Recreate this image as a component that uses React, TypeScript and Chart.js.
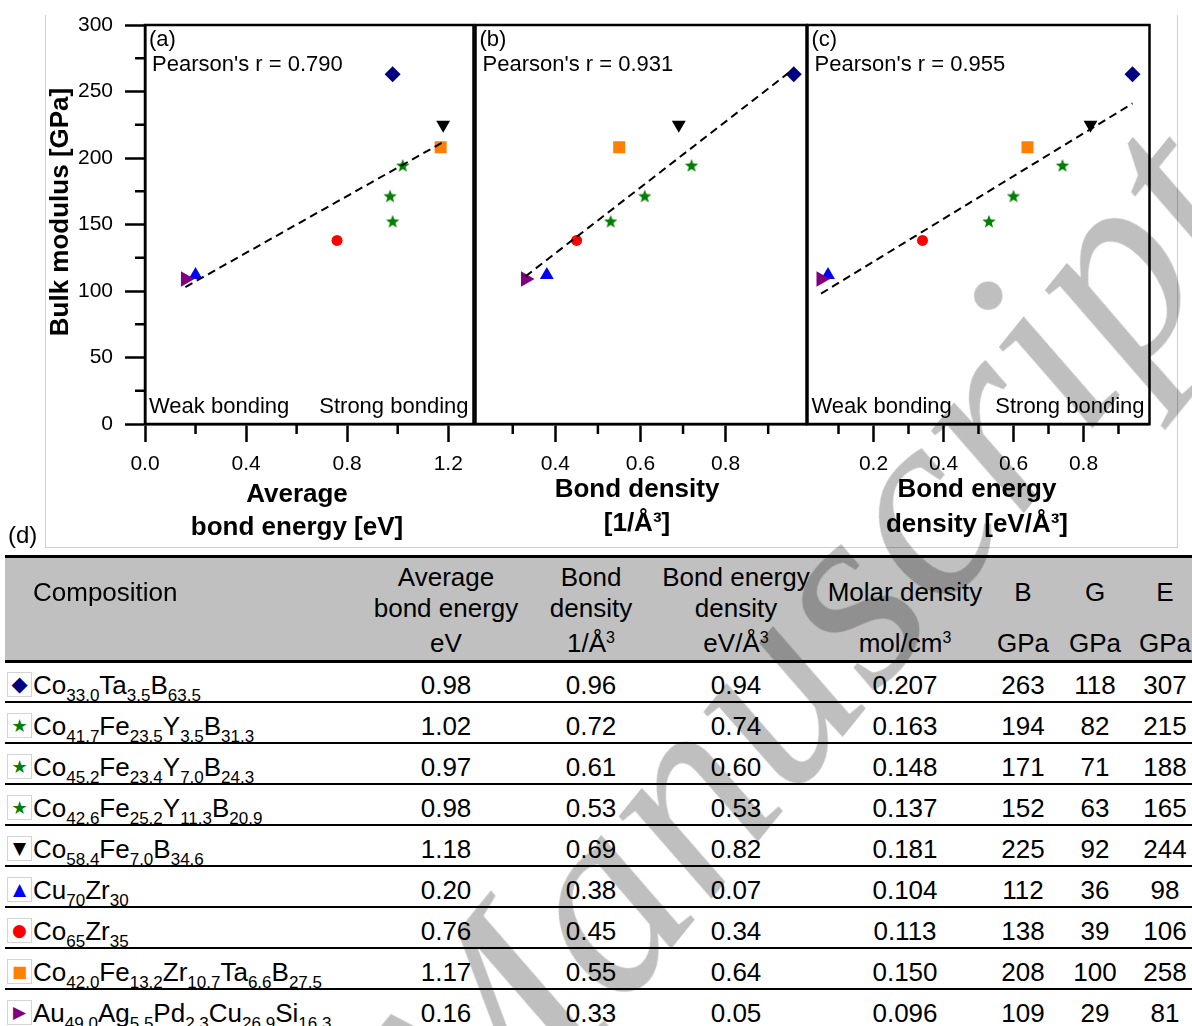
import React, { useEffect, useRef } from "react";
import { Chart, registerables } from "chart.js";

Chart.register(...registerables);

const FONT = "'Liberation Sans', Arial, Helvetica, sans-serif";

// ---------------- data ----------------
const COMPOSITIONS: [string, string][][] = [
  [["Co", "33.0"], ["Ta", "3.5"], ["B", "63.5"]],
  [["Co", "41.7"], ["Fe", "23.5"], ["Y", "3.5"], ["B", "31.3"]],
  [["Co", "45.2"], ["Fe", "23.4"], ["Y", "7.0"], ["B", "24.3"]],
  [["Co", "42.6"], ["Fe", "25.2"], ["Y", "11.3"], ["B", "20.9"]],
  [["Co", "58.4"], ["Fe", "7.0"], ["B", "34.6"]],
  [["Cu", "70"], ["Zr", "30"]],
  [["Co", "65"], ["Zr", "35"]],
  [["Co", "42.0"], ["Fe", "13.2"], ["Zr", "10.7"], ["Ta", "6.6"], ["B", "27.5"]],
  [["Au", "49.0"], ["Ag", "5.5"], ["Pd", "2.3"], ["Cu", "26.9"], ["Si", "16.3"]],
];
const AVG_BOND_ENERGY = [0.98, 1.02, 0.97, 0.98, 1.18, 0.2, 0.76, 1.17, 0.16];
const BOND_DENSITY = [0.96, 0.72, 0.61, 0.53, 0.69, 0.38, 0.45, 0.55, 0.33];
const BOND_ENERGY_DENSITY = [0.94, 0.74, 0.6, 0.53, 0.82, 0.07, 0.34, 0.64, 0.05];
const MOLAR_DENSITY = [0.207, 0.163, 0.148, 0.137, 0.181, 0.104, 0.113, 0.15, 0.096];
const BULK_MODULUS = [263, 194, 171, 152, 225, 112, 138, 208, 109];
const SHEAR_MODULUS = [118, 82, 71, 63, 92, 36, 39, 100, 29];
const YOUNG_MODULUS = [307, 215, 188, 165, 244, 98, 106, 258, 81];

const MARKER_KIND = ["diamond", "star", "star", "star", "down", "up", "circle", "square", "right"];
const MARKER_COLOR = ["#000080", "#008000", "#008000", "#008000", "#000000", "#0000ff", "#ff0000", "#ff8000", "#800080"];
const MARKER_GLYPH: Record<string, string> = {
  diamond: "◆", star: "★", down: "▼", up: "▲", circle: "●", square: "■", right: "▶",
};

const PEARSON = ["0.790", "0.931", "0.955"];
// fitted lines, endpoints
const FIT_A = [{ x: 0.16, y: 103 }, { x: 1.18, y: 212 }];
const FIT_B = [{ x: 0.33, y: 111 }, { x: 0.96, y: 267 }];
const FIT_C = [{ x: 0.05, y: 98 }, { x: 0.94, y: 241 }];

const Y_TICKS = [0, 50, 100, 150, 200, 250, 300];
const Y_MINOR = [25, 75, 125, 175, 225, 275];
const XA_TICKS = [0, 0.4, 0.8, 1.2];
const XA_MINOR = [0.2, 0.6, 1.0];
const XB_TICKS = [0.4, 0.6, 0.8];
const XB_MINOR = [0.3, 0.5, 0.7, 0.9];
const XC_TICKS = [0.2, 0.4, 0.6, 0.8];
const XC_MINOR = [0.1, 0.3, 0.5, 0.7, 0.9];

const HEADERS: { lines: string[]; unit: string; unitSup?: string }[] = [
  { lines: ["Average", "bond energy"], unit: "eV" },
  { lines: ["Bond", "density"], unit: "1/Å", unitSup: "3" },
  { lines: ["Bond energy", "density"], unit: "eV/Å", unitSup: "3" },
  { lines: ["Molar density"], unit: "mol/cm", unitSup: "3" },
  { lines: ["B"], unit: "GPa" },
  { lines: ["G"], unit: "GPa" },
  { lines: ["E"], unit: "GPa" },
];

// ---------------- layout ----------------
const W = 1192;
const H = 1026;
const CANVAS_H = 545;
const PLOT_TOP = 25;
const PLOT_BOTTOM = 424;
const COL_CENTERS = [446, 591, 736, 905, 1023, 1095, 1165];
const TABLE_TOP = 555;
const HEADER_BOTTOM = 661;
const ROW_H = 41;

type Panel = {
  key: string;
  xs: number[];
  fit: { x: number; y: number }[];
  min: number;
  max: number;
  ticks: number[];
  minor: number[];
  left: number;
  right: number;
  label: string;
  r: string;
  showY: boolean;
  bonding: boolean;
  title: string[];
  titleX: number;
  titleY: number[];
};

const PANELS: Panel[] = [
  {
    key: "a", xs: AVG_BOND_ENERGY, fit: FIT_A, min: 0, max: 1.3, ticks: XA_TICKS, minor: XA_MINOR,
    left: 145, right: 473.5, label: "(a)", r: PEARSON[0], showY: true, bonding: true,
    title: ["Average", "bond energy [eV]"], titleX: 297, titleY: [495, 528],
  },
  {
    key: "b", xs: BOND_DENSITY, fit: FIT_B, min: 0.2125, max: 0.99, ticks: XB_TICKS, minor: XB_MINOR,
    left: 475.5, right: 806.5, label: "(b)", r: PEARSON[1], showY: false, bonding: false,
    title: ["Bond density", "[1/Å³]"], titleX: 637, titleY: [490, 524],
  },
  {
    key: "c", xs: BOND_ENERGY_DENSITY, fit: FIT_C, min: 0.0114, max: 0.9886, ticks: XC_TICKS, minor: XC_MINOR,
    left: 807.5, right: 1149.5, label: "(c)", r: PEARSON[2], showY: false, bonding: true,
    title: ["Bond energy", "density [eV/Å³]"], titleX: 977, titleY: [490, 525],
  },
];

function makeStar(color: string, r: number) {
  const c = document.createElement("canvas");
  const s = Math.ceil(r * 2 + 2);
  c.width = s;
  c.height = s;
  const ctx = c.getContext("2d")!;
  ctx.fillStyle = color;
  ctx.beginPath();
  for (let k = 0; k < 10; k++) {
    const ang = -Math.PI / 2 + (k * Math.PI) / 5;
    const rr = k % 2 ? r * 0.42 : r;
    ctx.lineTo(s / 2 + rr * Math.cos(ang), s / 2 + rr * Math.sin(ang));
  }
  ctx.closePath();
  ctx.fill();
  return c;
}

function pointProps(kind: string, star: HTMLCanvasElement): any {
  switch (kind) {
    case "diamond": return { pointStyle: "rectRot", pointRadius: 8, pointRotation: 0 };
    case "star": return { pointStyle: star, pointRadius: 7 };
    case "down": return { pointStyle: "triangle", pointRadius: 8, pointRotation: 180 };
    case "up": return { pointStyle: "triangle", pointRadius: 8, pointRotation: 0 };
    case "circle": return { pointStyle: "circle", pointRadius: 5.5 };
    case "square": return { pointStyle: "rect", pointRadius: 8.5 };
    default: return { pointStyle: "triangle", pointRadius: 9, pointRotation: 90 };
  }
}

function decoPlugin(p: Panel) {
  return {
    id: "deco" + p.key,
    afterDraw(chart: any) {
      const { ctx, chartArea: ca, scales } = chart;
      ctx.save();
      ctx.strokeStyle = "#000";
      ctx.lineWidth = 2.5;
      ctx.strokeRect(ca.left, ca.top, ca.right - ca.left, ca.bottom - ca.top);
      ctx.beginPath();
      p.minor.forEach((v) => {
        const x = scales.x.getPixelForValue(v);
        ctx.moveTo(x, ca.bottom);
        ctx.lineTo(x, ca.bottom + 10);
      });
      if (p.showY) {
        Y_MINOR.forEach((v) => {
          const y = scales.y.getPixelForValue(v);
          ctx.moveTo(ca.left - 10, y);
          ctx.lineTo(ca.left, y);
        });
      }
      ctx.stroke();

      ctx.fillStyle = "#000";
      ctx.textBaseline = "middle";
      ctx.textAlign = "left";
      ctx.font = `22px ${FONT}`;
      ctx.fillText(p.label, ca.left + 4, ca.top + 15);
      ctx.fillText(`Pearson's r = ${p.r}`, ca.left + 7, ca.top + 40);
      if (p.bonding) {
        ctx.fillText("Weak bonding", ca.left + 4, ca.bottom - 17);
        ctx.textAlign = "right";
        ctx.fillText("Strong bonding", ca.right - 5, ca.bottom - 17);
      }
      ctx.font = `bold 26px ${FONT}`;
      ctx.textAlign = "center";
      p.title.forEach((t, i) => ctx.fillText(t, p.titleX, p.titleY[i]));
      if (p.showY) {
        ctx.translate(61, 212);
        ctx.rotate(-Math.PI / 2);
        ctx.fillText("Bulk modulus [GPa]", 0, 0);
      }
      ctx.restore();
    },
  };
}

function buildChart(canvas: HTMLCanvasElement, p: Panel) {
  const star = makeStar("#008000", 7);
  const pointSets = p.xs.map((x, i) => ({
    label: COMPOSITIONS[i].map((e) => e[0] + e[1]).join(""),
    data: [{ x, y: BULK_MODULUS[i] }],
    backgroundColor: MARKER_COLOR[i],
    borderColor: MARKER_COLOR[i],
    pointBackgroundColor: MARKER_COLOR[i],
    pointBorderColor: MARKER_COLOR[i],
    pointBorderWidth: 0,
    order: 20 - i,
    ...pointProps(MARKER_KIND[i], star),
  }));
  const fitSet = {
    label: "fit",
    data: p.fit,
    showLine: true,
    borderColor: "#000",
    borderWidth: 2,
    borderDash: [8, 5],
    pointRadius: 0,
    order: 0,
  };
  const tickFont = { family: FONT, size: 21 };
  const yScale: any = {
    type: "linear",
    display: p.showY,
    min: 0,
    max: 300,
    afterBuildTicks: (s: any) => {
      s.ticks = Y_TICKS.map((v) => ({ value: v }));
    },
    grid: { drawOnChartArea: false, drawTicks: true, tickLength: 20, tickWidth: 2.5, tickColor: "#000" },
    border: { display: true, color: "#000", width: 2.5 },
    ticks: { font: tickFont, color: "#000", padding: 12, autoSkip: false },
  };
  if (p.showY) {
    yScale.afterFit = (s: any) => {
      s.width = p.left;
    };
  }
  return new Chart(canvas, {
    type: "scatter",
    data: { datasets: [fitSet, ...pointSets] as any },
    options: {
      animation: false,
      responsive: false,
      maintainAspectRatio: false,
      events: [],
      layout: {
        autoPadding: false,
        padding: {
          top: PLOT_TOP,
          left: p.showY ? 0 : p.left,
          right: W - p.right,
          bottom: 0,
        },
      },
      plugins: { legend: { display: false }, tooltip: { enabled: false }, title: { display: false } },
      scales: {
        x: {
          type: "linear",
          min: p.min,
          max: p.max,
          afterBuildTicks: (s: any) => {
            s.ticks = p.ticks.map((v) => ({ value: v }));
          },
          afterFit: (s: any) => {
            s.height = CANVAS_H - PLOT_BOTTOM;
          },
          grid: { drawOnChartArea: false, drawTicks: true, tickLength: 18, tickWidth: 2.5, tickColor: "#000" },
          border: { display: true, color: "#000", width: 2.5 },
          ticks: {
            font: tickFont,
            color: "#000",
            padding: 10,
            maxRotation: 0,
            autoSkip: false,
            callback: (v: any) => Number(v).toFixed(1),
          },
        },
        y: yScale,
      },
    } as any,
    plugins: [decoPlugin(p)],
  });
}

const abs = (extra: React.CSSProperties): React.CSSProperties => ({
  position: "absolute",
  lineHeight: 1,
  whiteSpace: "nowrap",
  ...extra,
});

function CenterText({ x, y, children, size = 26 }: any) {
  return (
    <div style={abs({ left: x, top: y, transform: "translate(-50%,-50%)", fontSize: size })}>{children}</div>
  );
}

function Sup({ t }: { t: string }) {
  return <span style={{ fontSize: 16, position: "relative", top: -9 }}>{t}</span>;
}

const GLYPH_SIZE: Record<string, number> = {
  diamond: 21, star: 18, down: 17, up: 17, circle: 17, square: 16, right: 17,
};

export default function App() {
  const refs = [useRef<HTMLCanvasElement>(null), useRef<HTMLCanvasElement>(null), useRef<HTMLCanvasElement>(null)];

  useEffect(() => {
    document.body.style.margin = "0";
    const charts = PANELS.map((p, i) => buildChart(refs[i].current!, p));
    return () => charts.forEach((c) => c.destroy());
  }, []);

  const rowLines = COMPOSITIONS.map((_, k) => HEADER_BOTTOM + ROW_H * (k + 1));

  return (
    <div style={{ position: "relative", width: W, height: H, overflow: "hidden", background: "#fff", fontFamily: FONT, color: "#000" }}>
      {/* figure frame */}
      <div style={{ position: "absolute", left: 45, top: 15, width: 1133, height: 533, borderLeft: "1px solid #cfcfcf", borderRight: "1px solid #cfcfcf", borderBottom: "1px solid #cfcfcf", boxSizing: "border-box" }} />
      {PANELS.map((p, i) => (
        <canvas key={p.key} ref={refs[i]} width={W} height={CANVAS_H} style={{ position: "absolute", left: 0, top: 0, width: W, height: CANVAS_H }} />
      ))}
      <div style={abs({ left: 8, top: 535, transform: "translateY(-50%)", fontSize: 24 })}>(d)</div>

      {/* table */}
      <div style={{ position: "absolute", left: 5, top: TABLE_TOP + 3, width: W, height: HEADER_BOTTOM - TABLE_TOP - 3, background: "#c0c0c0" }} />
      <div style={{ position: "absolute", left: 5, top: TABLE_TOP, width: W, height: 3, background: "#000" }} />
      <div style={{ position: "absolute", left: 5, top: HEADER_BOTTOM - 1, width: W, height: 3, background: "#000" }} />
      {rowLines.map((y, k) => (
        <div key={"l" + k} style={{ position: "absolute", left: 5, top: y - 1, width: W, height: 2, background: "#000" }} />
      ))}
      <div style={abs({ left: 33, top: 592, transform: "translateY(-50%)", fontSize: 26 })}>Composition</div>
      {HEADERS.map((h, j) => (
        <React.Fragment key={"h" + j}>
          {h.lines.length === 2 ? (
            <>
              <CenterText x={COL_CENTERS[j]} y={577}>{h.lines[0]}</CenterText>
              <CenterText x={COL_CENTERS[j]} y={608}>{h.lines[1]}</CenterText>
            </>
          ) : (
            <CenterText x={COL_CENTERS[j]} y={592}>{h.lines[0]}</CenterText>
          )}
          <CenterText x={COL_CENTERS[j]} y={643}>
            {h.unit}
            {h.unitSup ? <Sup t={h.unitSup} /> : null}
          </CenterText>
        </React.Fragment>
      ))}
      {COMPOSITIONS.map((comp, k) => {
        const cy = HEADER_BOTTOM + ROW_H * k + 24;
        const vals = [
          AVG_BOND_ENERGY[k].toFixed(2),
          BOND_DENSITY[k].toFixed(2),
          BOND_ENERGY_DENSITY[k].toFixed(2),
          MOLAR_DENSITY[k].toFixed(3),
          String(BULK_MODULUS[k]),
          String(SHEAR_MODULUS[k]),
          String(YOUNG_MODULUS[k]),
        ];
        const kind = MARKER_KIND[k];
        return (
          <React.Fragment key={"r" + k}>
            <div style={{ position: "absolute", left: 7, top: cy - 13, width: 25, height: 25, border: "1px solid #d4d4d4", boxSizing: "border-box", display: "flex", alignItems: "center", justifyContent: "center", background: "#fff" }}>
              <span style={{ fontFamily: "'DejaVu Sans', sans-serif", fontSize: GLYPH_SIZE[kind], color: MARKER_COLOR[k], lineHeight: 1 }}>
                {MARKER_GLYPH[kind]}
              </span>
            </div>
            <div style={abs({ left: 33, top: cy, transform: "translateY(-50%)", fontSize: 26 })}>
              {comp.map(([el, sub], m) => (
                <React.Fragment key={m}>
                  {el}
                  <span style={{ fontSize: 17, position: "relative", top: 7 }}>{sub}</span>
                </React.Fragment>
              ))}
            </div>
            {vals.map((v, j) => (
              <CenterText key={j} x={COL_CENTERS[j]} y={cy}>{v}</CenterText>
            ))}
          </React.Fragment>
        );
      })}

      {/* watermark */}
      <div
        style={abs({
          left: 800,
          top: 645,
          transform: "translate(-50%,-50%) rotate(-51deg)",
          fontFamily: "'Liberation Serif', 'DejaVu Serif', serif",
          fontStyle: "italic",
          fontSize: 270,
          color: "rgba(0,0,0,0.25)",
          pointerEvents: "none",
        })}
      >
        Manuscript
      </div>
    </div>
  );
}
